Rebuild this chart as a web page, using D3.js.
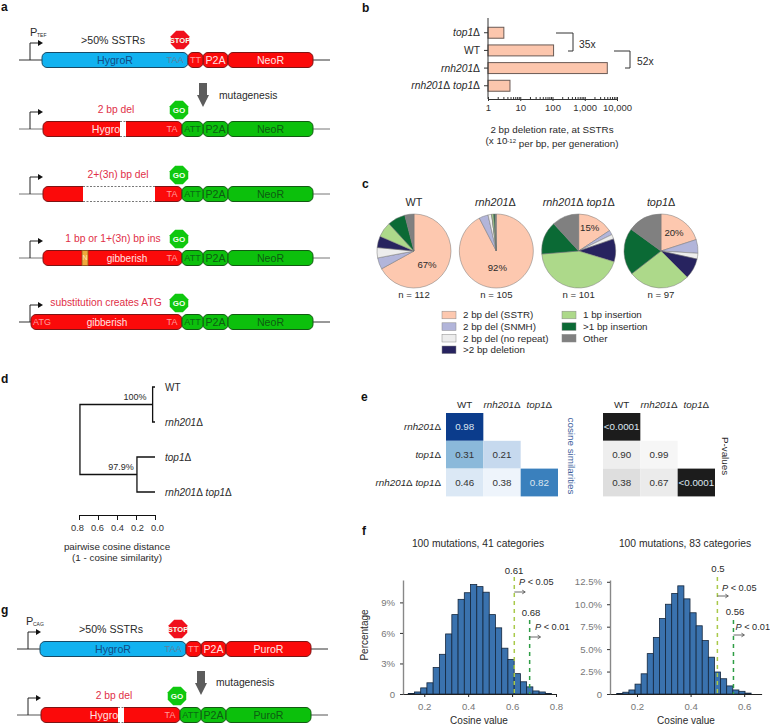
<!DOCTYPE html>
<html><head><meta charset="utf-8">
<script src="https://cdn.jsdelivr.net/npm/d3@7"></script>
<style>
html,body{margin:0;padding:0;background:#fff}
svg{display:block}
text{font-family:"Liberation Sans",Arial,sans-serif;fill:#2a2a2a}
</style></head><body>
<svg id="c" width="770" height="724"></svg>
<script>
// ---------- data ----------
const rateGenotypes = ["top1", "WT", "rnh201", "rnh201 top1"];
const rateValues = [3.1, 108, 5000, 4.8];
const rateDecades = [1, 10, 100, 1000, 10000];

const pieTitles = ["WT", "rnh201", "rnh201 top1", "top1"];
const pieCounts = ["n = 112", "n = 105", "n = 101", "n = 97"];
const pieCategories = ["2 bp del (SSTR)", "2 bp del (SNMH)", "2 bp del (no repeat)", ">2 bp deletion", "1 bp insertion", ">1 bp insertion", "Other"];
const pieWT = [67, 5, 4.5, 5, 6.7, 7.8, 4];
const pieRnh = [92.4, 4, 1.6, 0, 0.8, 0.6, 0.6];
const pieDouble = [15.7, 2, 2, 10, 44, 14.5, 11.8];
const pieTop1 = [20, 6, 2.5, 9, 27, 20.5, 15];
const pieLabels = ["67%", "92%", "15%", "20%"];

const treeLeaves = ["WT", "rnh201", "top1", "rnh201 top1"];
const treeHeights = [0.025, 0.19, 0.79];
const treeSupport = ["100%", "97.9%"];
const treeTicks = [0.8, 0.6, 0.4, 0.2, 0.0];

const matCols = ["WT", "rnh201", "top1"];
const matRows = ["rnh201", "top1", "rnh201 top1"];
const cosineCells = [["rnh201","WT","0.98"],["top1","WT","0.31"],["top1","rnh201","0.21"],["rnh201 top1","WT","0.46"],["rnh201 top1","rnh201","0.38"],["rnh201 top1","top1","0.82"]];
const pvalueCells = [["rnh201","WT","<0.0001"],["top1","WT","0.90"],["top1","rnh201","0.99"],["rnh201 top1","WT","0.38"],["rnh201 top1","rnh201","0.67"],["rnh201 top1","top1","<0.0001"]];

const hist41Start = 0.127, hist41Width = 0.02838;
const hist41 = [0.05,0.2,0.6,1.1,2.6,3.9,5.9,7.8,9.3,9.95,10.75,10.55,10,7.8,6.5,4.5,3.4,2,1.2,0.7,0.3,0.2,0.05];
const hist83Start = 0.1243, hist83Width = 0.0228;
const hist83 = [0.05,0.2,0.45,1.1,2.25,4.5,6.3,8.4,10,11.2,12.05,10.6,9.05,7.6,5.95,4.1,2.45,1.7,0.9,0.45,0.3,0.1];
const crit41 = [0.61, 0.68], crit83 = [0.5, 0.56];
const critLabels41 = ["0.61","0.68"], critLabels83 = ["0.5","0.56"];
const pLabels = ["< 0.05","< 0.01"];

// ---------- helpers ----------
const svg = d3.select("#c");
const FS = 10.3;
function txt(x,y,s,o={}){
  return svg.append("text").attr("x",x).attr("y",y).attr("dy","0.35em")
    .attr("text-anchor",o.a||"start").attr("font-size",o.fs||FS)
    .attr("font-family",o.ff||null).attr("font-weight",o.fw||null)
    .style("fill",o.c||"#2a2a2a").text(s);
}
function geno(sel,name){ // italic genotype names with upright delta
  if(name==="WT"){sel.text("WT");return sel;}
  sel.text(null);
  name.split(" ").forEach((w,i)=>{
    sel.append("tspan").attr("font-style","italic").text((i?" ":"")+w);
    sel.append("tspan").text("\u0394");
  });
  return sel;
}
function line(x1,y1,x2,y2,c="#222",w=1,dash=null){
  return svg.append("line").attr("x1",x1).attr("y1",y1).attr("x2",x2).attr("y2",y2)
    .attr("stroke",c).attr("stroke-width",w).attr("stroke-dasharray",dash);
}
["a",1,7,"b",362,8,"c",362,184,"d",1,379,"e",361,397,"f",362,531,"g",1,610].forEach((v,i,a)=>{
  if(i%3===0) txt(a[i+1],a[i+2],v,{fw:"bold",fs:12,c:"#111"});
});

// ---------- schematic constructs (a, g) ----------
const sx = d3.scaleLinear().domain([0,770]).range([0,770]);
const pal = {
  blue:{f:"#12b2f0",s:"#184a66"}, red:{f:"#fb0a0a",s:"#7d1414"}, green:{f:"#0cc00c",s:"#125a12"}
};
const MONO = '"Liberation Mono",monospace';
function part(x0,x1,y,k,label,lc,o={}){
  svg.append("rect").attr("x",sx(x0)).attr("y",y-7.5).attr("width",sx(x1)-sx(x0)).attr("height",15)
    .attr("rx",5).attr("ry",5).attr("fill",pal[k].f).attr("stroke",pal[k].s).attr("stroke-width",1);
  if(label) txt((x0+x1)/2,y,label,{a:"middle",c:lc,...o});
}
function promoter(x,y,xEnd){
  svg.append("path").attr("d",d3.line()([[x,y],[x,y-17],[xEnd-3,y-17]])).attr("fill","none").attr("stroke","#222").attr("stroke-width",1);
  svg.append("path").attr("d",d3.line()([[xEnd-4,y-20],[xEnd+1,y-17],[xEnd-4,y-14]])+"Z").attr("fill","#111");
}
function octagon(cx,cy,r,fill,label){
  const pts=d3.range(8).map(i=>{const a=Math.PI/8+i*Math.PI/4;return [cx+r*Math.cos(a),cy+r*Math.sin(a)];});
  svg.append("path").attr("d",d3.line()(pts)+"Z").attr("fill",fill);
  txt(cx,cy+0.3,label,{a:"middle",c:"#f4fff0",fs:label==="STOP"?7.6:8,fw:"bold",ff:'"DejaVu Sans Mono",monospace'});
}
function downArrow(x,y0,y1){
  svg.append("path").attr("d",d3.line()([[x-4,y0],[x+4,y0],[x+4,y1-12],[x+6,y1-12],[x,y1],[x-6,y1-12],[x-4,y1-12]])+"Z").attr("fill","#5c5c5c");
}
const pinkTxt="#ff9d9d", offWhite="#ffe3e3", dkGreen="#0d5c12";
function topRow(dx,y,cassette){
  line(19+dx,y,330+dx,y,"#333",1);
  promoter(30+dx,y,42+dx);
  part(42+dx,188+dx,y,"blue","HygroR","#114a84",{fs:10.6});
  txt(175+dx,y,"TAA",{a:"middle",c:"#5d7f9b",ff:MONO,fs:9});
  part(203+dx,228+dx,y,"red");
  part(188+dx,203+dx,y,"red","TT",pinkTxt,{ff:MONO,fs:9});
  part(228+dx,313+dx,y,"red",cassette,offWhite,{fs:10.6});
  txt(215.5+dx,y,"P2A",{a:"middle",c:offWhite,fs:10.6});
  txt(113+dx,y-20,">50% SSTRs",{a:"middle",fs:10.6});
  octagon(180+dx,y-20,10,"#f0101c","STOP");
}
function goRight(dx,y,cassette){
  part(203+dx,228+dx,y,"green");
  part(182+dx,203+dx,y,"green","ATT","#0a6a14",{ff:MONO,fs:9});
  part(228+dx,313+dx,y,"green",cassette,dkGreen,{fs:10.6});
  txt(215.5+dx,y,"P2A",{a:"middle",c:dkGreen,fs:10.6});
  txt(172+dx,y,"TA",{a:"middle",c:pinkTxt,ff:MONO,fs:9});
}
function gap(x0,x1,y){
  svg.append("rect").attr("x",x0).attr("y",y-8).attr("width",x1-x0).attr("height",16).attr("fill","#fff");
  line(x0,y-7.5,x1,y-7.5,"#777",1,"2 1.5");
  line(x0,y+7.5,x1,y+7.5,"#777",1,"2 1.5");
}
function promoterLabel(x,y,sub){
  txt(x,y,"P",{fs:11});
  txt(x+7,y+3.5,sub,{fs:5});
}
// panel a
topRow(0,60,"NeoR");
promoterLabel(30,32,"TEF");
downArrow(203,83,107);
txt(219,95,"mutagenesis",{fs:10.3});
const REDT="#df3048";
function goRow(y,x0,label,labelX,cassette,dx=0,lineColor="#777",px=30){
  line(19+dx,y,330+dx,y,lineColor,1);
  promoter(px+dx,y,42+dx);
  part(x0+dx,182+dx,y,"red");
  goRight(dx,y,cassette);
  txt(labelX+dx,y-20,label,{a:"middle",c:REDT,fs:10.3});
  octagon(179+dx,y-19,10,"#0fc80f","GO");
}
goRow(129,43,"2 bp del",116,"NeoR");
gap(120,126,129); txt(106,129,"Hygro",{a:"middle",c:offWhite,fs:10.6});
goRow(194,43,"2+(3n) bp del",118,"NeoR");
gap(83,155,194);
goRow(258,43,"1 bp or 1+(3n) bp ins",113,"NeoR");
svg.append("rect").attr("x",82).attr("y",250.5).attr("width",6).attr("height",15).attr("fill","#f0a93c").attr("stroke","#8a5a20").attr("stroke-width",0.8);
txt(85,258,"N",{a:"middle",c:"#ffe9c0",ff:MONO,fs:7});
txt(127,258,"gibberish",{a:"middle",c:offWhite,fs:10});
goRow(322,31,"substitution creates ATG",106,"NeoR",0,"#333",30);
txt(42,322,"ATG",{a:"middle",c:pinkTxt,ff:MONO,fs:9});
txt(107,322,"gibberish",{a:"middle",c:offWhite,fs:10});
// panel g
topRow(-2,649,"PuroR");
promoterLabel(26,621,"CAG");
downArrow(201,671,695);
txt(216,682,"mutagenesis",{fs:10.3});
goRow(715,43,"2 bp del",116,"PuroR",-2,"#555");
gap(118,124,715); txt(104,715,"Hygro",{a:"middle",c:offWhite,fs:10.6});

// ---------- panel b ----------
const bx = d3.scaleLog().domain([1,10000]).range([488,617]);
const by = d3.scaleBand().domain(rateGenotypes).range([25.5,93]).paddingInner(0.38).paddingOuter(0.1);
svg.selectAll(".rbar").data(rateGenotypes).join("rect").attr("class","rbar")
  .attr("x",bx(1)).attr("y",d=>by(d)).attr("height",by.bandwidth())
  .attr("width",(d,i)=>bx(rateValues[i])-bx(1))
  .attr("fill","#fcc6ad").attr("stroke","#6a5a55").attr("stroke-width",1);
const minor=[]; d3.range(0,4).forEach(e=>d3.range(1,10).forEach(m=>minor.push(m*10**e))); minor.push(10000);
const bAxis = svg.append("g").attr("transform","translate(0,99)")
  .call(d3.axisBottom(bx).tickValues(minor).tickSize(2).tickSizeOuter(0).tickFormat(d=>rateDecades.includes(d)?d3.format(",")(d):""));
bAxis.selectAll(".tick line").attr("y1",-2).attr("y2",d=>rateDecades.includes(d)?2:0).attr("stroke","#333");
bAxis.selectAll("path").attr("stroke","#333");
bAxis.selectAll("text").attr("font-size",9.5).attr("y",12).attr("dy","0").attr("font-family",'"Liberation Sans"').style("fill","#333");
line(488,18,488,99,"#333",1);
rateGenotypes.forEach(g=>{
  const y=by(g)+by.bandwidth()/2;
  line(484,y,488,y,"#333",1);
  geno(txt(480,y,"",{a:"end",fs:10.3}),g);
});
svg.append("path").attr("d",d3.line()([[556,33],[573,33],[573,51],[568,51]])).attr("fill","none").attr("stroke","#333");
svg.append("path").attr("d",d3.line()([[614,51],[630,51],[630,68],[625,68]])).attr("fill","none").attr("stroke","#333");
txt(579,44,"35x",{fs:10.3}); txt(637,61,"52x",{fs:10.3});
txt(552,130,"2 bp deletion rate, at SSTRs",{a:"middle",fs:9.8});
{
  const t=txt(552,141,"",{a:"middle",fs:9.8});
  t.append("tspan").text("(x 10");
  t.append("tspan").attr("font-size",6).attr("dy","-0.3em").text("-12");
  t.append("tspan").attr("dy","0.45em").text(" per bp, per generation)");
}

// ---------- panel c ----------
const pieColors = d3.scaleOrdinal().domain(pieCategories).range(["#fdc8af","#b2b5da","#ededed","#27235f","#add98a","#0b6a35","#808080"]);
const pieSets=[pieWT,pieRnh,pieDouble,pieTop1];
const pieX=d3.scalePoint().domain(pieTitles).range([414,661]);
const pieGen=d3.pie().sort(null).value(d=>d);
const arc=d3.arc().innerRadius(0).outerRadius(37);
const pieLabelOffset=[[13,14],[1,17],[11,-23],[13,-18]];
pieTitles.forEach((t,i)=>{
  const cx=pieX(t);
  svg.append("g").attr("transform",`translate(${cx},251)`)
    .selectAll("path").data(pieGen(pieSets[i])).join("path")
    .attr("d",arc).attr("fill",(d,j)=>pieColors(pieCategories[j])).attr("stroke","#777").attr("stroke-width",0.5);
  geno(txt(cx-(i==1?1:0),202,"",{a:"middle",fs:10.8}),t);
  txt(cx,295,pieCounts[i],{a:"middle",fs:9.6});
  txt(cx+pieLabelOffset[i][0],251+pieLabelOffset[i][1],pieLabels[i],{a:"middle",fs:9.6});
});
pieCategories.forEach((c,i)=>{
  const col=i<4?0:1, row=i<4?i:i-4;
  const x=col?562:442, y=315+row*11.6;
  svg.append("rect").attr("x",x).attr("y",y-3.8).attr("width",14).attr("height",7.6)
    .attr("fill",pieColors(c)).attr("stroke","#888").attr("stroke-width",0.5);
  txt(x+21,y,c,{fs:9.8});
});

// ---------- panel d ----------
const tx=d3.scaleLinear().domain([0.8,0]).range([79,155]);
const ty=d3.scalePoint().domain(treeLeaves).range([387,492]);
const treeLine=(pts)=>svg.append("path").attr("d",d3.line()(pts)).attr("fill","none").attr("stroke","#111").attr("stroke-width",1.3);
const n1=(ty("WT")+ty("rnh201"))/2, n2=(ty("top1")+ty("rnh201 top1"))/2;
treeLine([[tx(0),ty("WT")],[tx(treeHeights[0]),ty("WT")],[tx(treeHeights[0]),ty("rnh201")],[tx(0),ty("rnh201")]]);
treeLine([[tx(0),ty("top1")],[tx(treeHeights[1]),ty("top1")],[tx(treeHeights[1]),ty("rnh201 top1")],[tx(0),ty("rnh201 top1")]]);
treeLine([[tx(treeHeights[0]),n1],[tx(treeHeights[2]),n1],[tx(treeHeights[2]),n2],[tx(treeHeights[1]),n2]]);
treeLeaves.forEach(l=>geno(txt(165,ty(l),"",{fs:10}),l));
txt(135,397,treeSupport[0],{a:"middle",fs:9});
txt(121,466.5,treeSupport[1],{a:"middle",fs:9});
const dAxis=svg.append("g").attr("transform","translate(0,515)")
  .call(d3.axisBottom(tx).tickValues(treeTicks).tickSize(5).tickSizeOuter(5).tickFormat(d3.format(".1f")));
dAxis.selectAll("text").attr("font-size",9.3).attr("font-family",'"Liberation Sans"').attr("y",9).attr("dx",d=>(0.4-d)*5).style("fill","#333");
dAxis.selectAll("path,line").attr("stroke","#111");
txt(117,547,"pairwise cosine distance",{a:"middle",fs:9.8});
txt(117,558,"(1 - cosine similarity)",{a:"middle",fs:9.8});

// ---------- panel e ----------
const cosineFill=d3.scaleOrdinal().domain(cosineCells.map(d=>d[2])).range(["#0b3c8c","#8bb9da","#c6d9ee","#dbe8f5","#eef4fb","#3a80bd"]);
const pFill=["#1c1c1c","#eeeeee","#f6f6f6","#dedede","#ebebeb","#1c1c1c"];
const my=d3.scaleBand().domain(matRows).range([413,496.4]);
function matrix(cells,x0,x1,fill,labelRows){
  const mx=d3.scaleBand().domain(matCols).range([x0,x1]);
  svg.selectAll(null).data(cells).join("rect").attr("x",d=>mx(d[1])).attr("y",d=>my(d[0]))
    .attr("width",mx.bandwidth()).attr("height",my.bandwidth()).attr("fill",(d,i)=>fill(d,i));
  cells.forEach(d=>{
    const dark=["0.98","0.82","<0.0001"].includes(d[2]);
    txt(mx(d[1])+mx.bandwidth()/2,my(d[0])+my.bandwidth()/2,d[2],{a:"middle",fs:9.8,c:dark?"#dde6f0":"#333"});
  });
  matCols.forEach(c=>geno(txt(mx(c)+mx.bandwidth()/2,405,"",{a:"middle",fs:9.8}),c));
  if(labelRows) matRows.forEach(r=>geno(txt(441,my(r)+my.bandwidth()/2,"",{a:"end",fs:9.8}),r));
}
matrix(cosineCells,446,558,d=>cosineFill(d[2]),true);
matrix(pvalueCells,603,715,(d,i)=>pFill[i],false);
txt(571,456,"cosine similarities",{a:"middle",fs:9.8,c:"#3c5e9c"}).attr("transform","rotate(90,571,456)");
txt(725,456,"P-values",{a:"middle",fs:9.8}).attr("transform","rotate(90,725,456)");

// ---------- panel f ----------
function hist(vals,start,width,x,y,ticksY,fmtY,ticksX,axisXL,crits,critLabels,title,titleX,labelPos){
  const g=svg.append("g");
  g.selectAll("rect").data(vals).join("rect")
    .attr("x",(d,i)=>x(start+i*width)).attr("width",(d,i)=>x(start+(i+1)*width)-x(start+i*width))
    .attr("y",d=>y(d)).attr("height",d=>y(0)-y(d))
    .attr("fill","#3a72ae").attr("stroke","#14263c").attr("stroke-width",0.8);
  const ax=svg.append("g").attr("transform",`translate(0,${y(0)})`)
    .call(d3.axisBottom(x).tickValues(ticksX).tickSize(3).tickSizeOuter(0).tickFormat(d3.format(".1f")));
  ax.selectAll("path,line").attr("stroke","#222");
  ax.selectAll("text").attr("font-size",9.6).attr("font-family",'"Liberation Sans"').attr("y",9).style("fill","#777");
  const ay=svg.append("g").attr("transform",`translate(${axisXL},0)`)
    .call(d3.axisLeft(y).tickValues(ticksY).tickSize(3).tickSizeOuter(0).tickFormat(fmtY));
  ay.selectAll("path").attr("stroke","#888").attr("stroke-width",1.4);
  ay.selectAll("line").attr("stroke","#333");
  ay.selectAll("text").attr("font-size",9.6).attr("font-family",'"Liberation Sans"').attr("x",-8).style("fill","#777");
  const critColors=["#a9c94a","#2f9e45"];
  crits.forEach((c,i)=>{
    line(x(c),labelPos[i].top,x(c),y(0),critColors[i],1.5,"4 4");
    txt(labelPos[i].vx,labelPos[i].vy,critLabels[i],{a:"middle",fs:9.6});
    const t=txt(labelPos[i].px,labelPos[i].py,"",{fs:9.2});
    t.append("tspan").attr("font-style","italic").text("P");
    t.append("tspan").text(" "+pLabels[i]);
    const ay2=labelPos[i].ay, x0=x(c);
    line(x0,ay2,x0+10,ay2,"#444",0.8);
    svg.append("path").attr("d",d3.line()([[x0+8,ay2-1.8],[x0+11,ay2],[x0+8,ay2+1.8]])).attr("fill","none").attr("stroke","#444").attr("stroke-width",0.8);
  });
  txt(titleX,543,title,{a:"middle",fs:10.3});
  txt(titleX+1,720,"Cosine value",{a:"middle",fs:10});
}
const x41=d3.scaleLinear().domain([0.1,0.8]).range([402.3,556]);
const y41=d3.scaleLinear().domain([0,11.2]).range([694,580]);
hist(hist41,hist41Start,hist41Width,x41,y41,[0,3,6,9],d=>d?d+"%":"0",[0.2,0.4,0.6,0.8],403,crit41,critLabels41,"100 mutations, 41 categories",478,
 [{top:577,vx:514,vy:571,px:519,py:582,ay:592},{top:620,vx:531,vy:613,px:535,py:627,ay:637}]);
txt(364,635,"Percentage",{a:"middle",fs:10}).attr("transform","rotate(-90,364,635)");
const x83=d3.scaleLinear().domain([0.09,0.665]).range([607.5,761.6]);
const y83=d3.scaleLinear().domain([0,12.7]).range([694,580]);
hist(hist83,hist83Start,hist83Width,x83,y83,[0,2.5,5,7.5,10,12.5],d=>d?d3.format(".1f")(d)+"%":"0",[0.2,0.4,0.6],610,crit83,critLabels83,"100 mutations, 83 categories",685,
 [{top:577,vx:718,vy:569,px:722,py:588,ay:596},{top:620,vx:735,vy:612,px:735.5,py:627,ay:635}]);
</script>
</body></html>
